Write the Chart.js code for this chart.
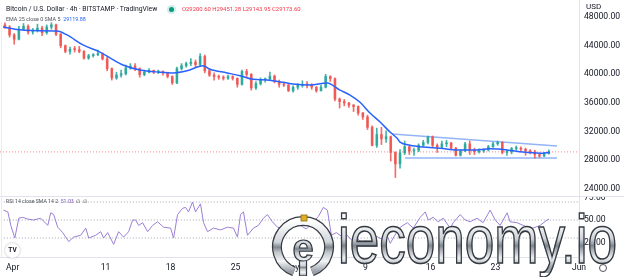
<!DOCTYPE html>
<html>
<head>
<meta charset="utf-8">
<script src="https://cdn.jsdelivr.net/npm/chart.js@4.4.1/dist/chart.umd.min.js"></script>
<style>
    body { margin: 0; background: #fff; width: 624px; height: 277px; overflow: hidden; position: relative; font-family: Roboto, "Noto Sans", sans-serif; }
    canvas { position: absolute; left: 0; }
    #priceChart { top: 0; }
    #rsiChart { top: 196px; }
    .txt { position: absolute; white-space: nowrap; color: #131722; }
    #title { left: 6px; top: 4px; font-size: 6.8px; line-height: 10px; }
    #dot { position: absolute; left: 169px; top: 7px; width: 5px; height: 5px; border-radius: 50%; background: #089981; box-shadow: 0 0 0 2px rgba(8,153,129,0.18); }
    #ohlc { left: 182px; top: 4px; font-size: 5.9px; line-height: 10px; color: #f23645; }
    #ema { left: 6px; top: 14px; font-size: 5.4px; line-height: 10px; color: #50535e; }
    #ema span { color: #2962ff; }
    #rsiLabel { left: 6px; top: 196px; font-size: 5.2px; line-height: 10px; color: #50535e; }
    #rsiLabel span { color: #7e57c2; }
    #usd { left: 586px; top: 2px; font-size: 8px; line-height: 10px; }
    #sep { position: absolute; left: 0; top: 196px; width: 624px; height: 1px; background: #e0e3eb; }
    #leftLine { position: absolute; left: 1px; top: 22px; width: 1px; height: 235px; background: #e6ebf5; }
    #gear { position: absolute; left: 599px; top: 264px; width: 6px; height: 6px; border: 1px solid #50535e; border-radius: 50%; }
    #tv { position: absolute; left: 5px; top: 243px; width: 15px; height: 15px; border-radius: 50%; background: #fff; box-shadow: 0 0 2px rgba(0,0,0,0.35); font: bold 6.5px/15px Roboto, sans-serif; text-align: center; color: #131722; }
    #logo { position: absolute; left: 270px; top: 214px; }
    #wmText { position: absolute; left: 338px; top: 205px; font-family: "Liberation Sans", Arial, sans-serif; font-size: 68px; line-height: 68px;
        transform: scaleX(0.78); transform-origin: 0 0; white-space: nowrap; color: transparent;
        background: linear-gradient(to bottom, #ffffff 0%, #f5f7f9 30%, #cdd2d7 50%, #7f868e 60%, #aab0b6 66%, #eef1f3 78%, #9aa1a9 92%);
        -webkit-background-clip: text; background-clip: text; -webkit-text-stroke: 1.6px #353a41; }
</style>
</head>
<body>
<canvas id="priceChart" width="624" height="196"></canvas>
<canvas id="rsiChart" width="624" height="81"></canvas>
<div id="sep"></div>
<div id="leftLine"></div>
<div id="title" class="txt">Bitcoin / U.S. Dollar · 4h · BITSTAMP · TradingView</div>
<div id="dot"></div>
<div id="ohlc" class="txt">O29200.60 H29451.28 L29143.95 C29173.60</div>
<div id="ema" class="txt">EMA 25 close 0 SMA 5 &nbsp;<span>29119.88</span></div>
<div id="rsiLabel" class="txt">RSI 14 close SMA 14 2 &nbsp;<span>51.03</span> &nbsp;∅ &nbsp;∅</div>
<div id="usd" class="txt">USD</div>
<div id="gear"></div>
<div id="tv">TV</div>
<svg id="logo" width="66" height="62" viewBox="0 0 66 62">
    <defs>
        <linearGradient id="chrome" x1="0" y1="0" x2="0" y2="1">
            <stop offset="0" stop-color="#ffffff"/>
            <stop offset="0.42" stop-color="#d0d5da"/>
            <stop offset="0.52" stop-color="#7f868e"/>
            <stop offset="0.62" stop-color="#c2c7cc"/>
            <stop offset="0.8" stop-color="#f2f4f6"/>
            <stop offset="1" stop-color="#9aa1a9"/>
        </linearGradient>
    </defs>
    <path d="M 24.1 57.4 A 26 26 0 1 1 41.9 57.4" fill="none" stroke="#353a41" stroke-width="10"/>
    <path d="M 24.1 57.4 A 26 26 0 1 1 41.9 57.4" fill="none" stroke="url(#chrome)" stroke-width="7.5"/>
    <rect x="29.5" y="44" width="7" height="18" fill="url(#chrome)" stroke="#353a41" stroke-width="1.2"/>
    <text x="33" y="47" text-anchor="middle" font-family="Liberation Sans, Arial, sans-serif" font-weight="bold" font-size="38" fill="url(#chrome)" stroke="#353a41" stroke-width="1.2">e</text>
    <rect x="31" y="1" width="6" height="6" fill="#e0b020" stroke="#8a6a10" stroke-width="0.8"/>
</svg>
<div id="wmText">ieconomy.io</div>

<script>
// 12h candles from Mar 31 00:00, x = day number (Mar 31 = 0, Apr 1 = 1 ...)
var firstOpen = 46900;
var closes = [
    46600, 45500, 44900, 46300, 46700, 45900, 46100, 46450, 45800, 46600,
    46900, 45600, 44000, 43200, 43500, 43450, 43200, 42250, 42600, 42750,
    42900, 42150, 40800, 39500, 39900, 40080, 40900, 41150, 40800, 39950,
    40300, 40550, 40300, 40400, 40200, 39700, 38800, 40800, 41200, 41500,
    41700, 41370, 42500, 40500, 39900, 39700, 39600, 39450, 39700, 39450,
    38600, 40400, 40000, 38100, 38700, 39250, 39300, 39750, 39000, 38600,
    38500, 37700, 38200, 38450, 38600, 38500, 38200, 37700, 38200, 39700,
    39400, 36550, 36200, 36000, 35700, 35500, 34600, 34050, 32600, 30100,
    31600, 31000, 31300, 29100, 27500, 29050, 29900, 29300, 29400, 30100,
    30500, 31300, 30100, 29850, 30300, 30400, 29700, 28700, 29300, 30300,
    29400, 29200, 29300, 29450, 29900, 30300, 30500, 29100, 29200, 29650,
    29700, 29550, 29300, 29200, 28800, 28600, 28950, 29173.6
];
var highs = [
    47200, 46800, 45700, 46700, 47100, 46900, 46400, 47000, 46700, 46900,
    47200, 47000, 45700, 44100, 43800, 43900, 43900, 43300, 42800, 42900,
    43400, 43000, 42400, 40900, 40300, 40600, 41300, 41500, 41500, 40900,
    40600, 40800, 40600, 40600, 40500, 40300, 39800, 41000, 41500, 41700,
    42200, 42000, 42900, 42700, 40700, 40200, 39900, 39800, 39900, 39800,
    39500, 40600, 40700, 40100, 39000, 39500, 39500, 40300, 39900, 39200,
    38900, 38700, 38400, 38700, 39100, 39000, 38700, 38300, 38500, 40000,
    39800, 39500, 36700, 36500, 36100, 35800, 35600, 34700, 34300, 32800,
    32500, 32600, 32100, 31400, 29200, 29500, 30700, 30000, 29700, 30300,
    30800, 31400, 31400, 30300, 30700, 30800, 30500, 29800, 29500, 30500,
    30700, 29700, 29600, 29600, 30100, 30500, 30700, 30600, 29400, 29800,
    30000, 29900, 29700, 29500, 29400, 29000, 29100, 29451.28
];
var lows = [
    46400, 45200, 44200, 44800, 46200, 45600, 45600, 45900, 45400, 45600,
    46300, 45400, 43700, 43000, 42800, 43100, 43000, 42100, 42100, 42400,
    42600, 42000, 40500, 39200, 39300, 39600, 39900, 40700, 40500, 39600,
    39800, 40200, 40100, 40100, 39900, 39500, 38600, 38700, 40600, 41000,
    41200, 41000, 41200, 40200, 39700, 39200, 39300, 39200, 39300, 39200,
    38200, 38500, 39700, 37800, 37900, 38500, 38900, 39100, 38800, 38200,
    38300, 37600, 37500, 37900, 38200, 38100, 37900, 37500, 37700, 38100,
    39000, 36300, 35300, 35600, 35400, 34800, 34300, 33700, 32300, 30000,
    29800, 30200, 30500, 27900, 25600, 26900, 28800, 28800, 28700, 29200,
    29900, 30300, 29800, 29100, 29700, 29900, 29500, 28600, 28600, 29200,
    28800, 28800, 29000, 29100, 29300, 29800, 30100, 28900, 28700, 28900,
    29400, 29300, 28700, 28900, 28300, 28400, 28500, 28850
];

// EMA 25
var emaDays = [0.05, 1.34, 3.27, 5.85, 6.93, 8.65, 10.48, 11.55, 12.95, 14.78, 16.93, 18.33, 19.84, 21.56, 22.31,
    24.14, 25.54, 26.94, 28.44, 30.16, 31.24, 33.07, 34.9, 36.29, 37.37, 38.45, 39.52, 40.6, 41.67, 42.42,
    42.75, 43.82, 45.22, 47.05, 48.88, 50.6, 52.43, 54.26, 55.98, 57.81, 58.88];
var emaValues = [46600, 46300, 46100, 46050, 45500, 44100, 43100, 42300, 41300, 40600, 40300, 40200, 40500, 41200, 40700,
    40200, 39800, 39300, 39200, 38900, 38650, 38500, 38800, 37800, 37100, 36100, 34600, 33350, 31950, 31100,
    30550, 30100, 29850, 29700, 29450, 29450, 29600, 29450, 29150, 29000, 29120];

// RSI 14
var rsiDays = [0, 0.48, 0.8, 1.23, 1.66, 2.09, 2.63, 3.27, 4.02, 4.78, 5.1, 5.42, 5.85, 6.39, 7.04, 7.57, 8.33, 8.87,
    9.19, 9.94, 10.48, 10.8, 11.23, 11.88, 12.41, 12.95, 13.49, 13.92, 14.24, 14.57, 15.0, 15.53, 16.07, 16.61,
    17.26, 18.01, 18.33, 18.76, 19.3, 19.62, 19.94, 20.37, 20.7, 21.23, 21.56, 21.99, 22.63, 23.39, 24.14, 24.78,
    25.21, 25.54, 25.86, 26.29, 26.94, 27.47, 28.01, 28.44, 28.98, 29.52, 30.38, 30.92, 31.99, 32.64, 33.39,
    33.93, 34.46, 34.9, 35.33, 35.86, 36.4, 36.94, 37.48, 38.01, 38.55, 39.09, 39.63, 40.17, 40.7, 41.24, 41.67,
    42.1, 42.75, 43.5, 44.15, 44.9, 45.44, 45.76, 46.3, 46.83, 47.37, 48.13, 48.45, 49.2, 49.74, 50.28, 51.03,
    51.67, 52.43, 52.97, 53.5, 54.26, 54.58, 55.33, 55.98, 56.52, 57.05, 57.81, 58.56, 58.77];
var rsiValues = [61, 59, 44, 30, 52, 53, 51, 50, 52, 44, 58, 56, 42, 36, 26, 31, 33, 41,
    30, 33, 37, 30, 36, 23, 37, 31, 37, 50, 50, 44, 47, 37, 44, 48,
    42, 41, 30, 56, 63, 64, 59, 70, 59, 68, 47, 37, 41, 39, 42, 41,
    31, 56, 59, 33, 41, 44, 52, 56, 48, 42, 40, 43, 44, 40, 48,
    54, 64, 61, 33, 36, 32, 34, 28, 31, 25, 27, 21, 32, 29, 35, 24,
    32, 42, 47, 41, 53, 59, 50, 53, 48, 52, 41, 47, 56, 50, 48, 52,
    47, 61, 50, 44, 58, 48, 47, 44, 42, 41, 44, 50, 51];

// trend lines and last price
var upperTrendDays = [41.89, 59.63];
var upperTrendPrices = [31675, 30000];
var lowerTrendDays = [43.28, 59.63];
var lowerTrendPrices = [28326, 28326];
var lastPrice = 29173.60;

// axis labels
var priceTicks = [24000, 28000, 32000, 36000, 40000, 44000, 48000];
var rsiTicks = [25, 50, 75];
var rsiBands = [30, 50, 70];
var timeTickDays = [1, 11, 18, 25, 31, 39, 46, 53, 62];
var timeTickLabels = ["Apr", "11", "18", "25", "May", "9", "16", "23", "Jun"];

var xMin = -0.278, xMax = 62;
var upColor = "rgba(38,166,154,0.85)";
var downColor = "rgba(239,83,80,0.85)";

Chart.defaults.font.family = 'Roboto, "Noto Sans", sans-serif';
Chart.defaults.color = "#131722";

// 24/7 market: each candle opens at the previous close
var opens = closes.map(function (c, i) { return i === 0 ? firstOpen : closes[i - 1]; });
var candleColors = closes.map(function (c, i) { return c >= opens[i] ? upColor : downColor; });
var wickData = closes.map(function (c, i) { return { x: i * 0.5 + 0.25, y: [lows[i], highs[i]] }; });
var bodyData = closes.map(function (c, i) { return { x: i * 0.5 + 0.25, y: [opens[i], c] }; });
var emaData = emaDays.map(function (d, i) { return { x: d, y: emaValues[i] }; });
var rsiData = rsiDays.map(function (d, i) { return { x: d, y: rsiValues[i] }; });

function toPoints(days, values) {
    return days.map(function (d, i) { return { x: d, y: values[i] }; });
}

// fixed right axis width, no label padding eating into the plot
function fixAxis(scale) {
    scale.width = 45;
    scale.paddingTop = 0;
    scale.paddingBottom = 0;
}

var ctxPrice = document.getElementById("priceChart").getContext("2d");
new Chart(ctxPrice, {
    type: "bar",
    data: {
        datasets: [
            { type: "line", data: toPoints([xMin, xMax], [lastPrice, lastPrice]), borderColor: "rgba(242,54,69,0.6)",
              borderWidth: 1, borderDash: [1, 2], pointRadius: 0, order: 10 },
            { type: "line", data: toPoints(upperTrendDays, upperTrendPrices), borderColor: "#93b4f7",
              borderWidth: 1.3, pointRadius: 0, order: 9 },
            { type: "line", data: toPoints(lowerTrendDays, lowerTrendPrices), borderColor: "#93b4f7",
              borderWidth: 1.3, pointRadius: 0, order: 8 },
            { data: wickData, backgroundColor: candleColors, barThickness: 1, grouped: false, order: 4 },
            { data: bodyData, backgroundColor: candleColors, barThickness: 2, grouped: false, minBarLength: 1, order: 3 },
            { type: "line", data: emaData, borderColor: "#2962ff", borderWidth: 1.5, pointRadius: 0,
              cubicInterpolationMode: "monotone", order: 1 }
        ]
    },
    options: {
        responsive: false,
        animation: false,
        events: [],
        layout: { padding: 0 },
        plugins: { legend: { display: false }, tooltip: { enabled: false } },
        scales: {
            x: { type: "linear", min: xMin, max: xMax, offset: false, display: false },
            y: {
                position: "right",
                min: 23023,
                max: 50372,
                grid: { display: false, drawTicks: false },
                border: { display: true, color: "#e0e3eb" },
                ticks: {
                    padding: 5,
                    font: { size: 8.6 },
                    color: "#131722",
                    callback: function (v) { return v.toFixed(2); }
                },
                afterBuildTicks: function (scale) {
                    scale.ticks = priceTicks.map(function (v) { return { value: v }; });
                },
                afterFit: fixAxis
            }
        }
    }
});

var bandSets = rsiBands.map(function (b) {
    return { data: toPoints([xMin, xMax], [b, b]), borderColor: "#a3a6af", borderWidth: 1,
             borderDash: [1, 2], pointRadius: 0, order: 5 };
});

var ctxRsi = document.getElementById("rsiChart").getContext("2d");
new Chart(ctxRsi, {
    type: "line",
    data: {
        datasets: bandSets.concat([
            { data: rsiData, borderColor: "#9a7fd6", borderWidth: 1, pointRadius: 0, tension: 0, order: 1 }
        ])
    },
    options: {
        responsive: false,
        animation: false,
        events: [],
        layout: { padding: 0 },
        plugins: { legend: { display: false }, tooltip: { enabled: false } },
        scales: {
            x: {
                type: "linear",
                min: xMin,
                max: xMax,
                grid: { display: false, drawTicks: false },
                border: { display: true, color: "#e0e3eb" },
                ticks: {
                    autoSkip: false,
                    maxRotation: 0,
                    padding: 6,
                    font: { size: 8.6 },
                    color: "#131722",
                    callback: function (v, i) { return timeTickLabels[i]; }
                },
                afterBuildTicks: function (scale) {
                    scale.ticks = timeTickDays.map(function (v) { return { value: v }; });
                },
                afterFit: function (scale) { scale.height = 20; }
            },
            y: {
                position: "right",
                min: 8.89,
                max: 76.67,
                grid: { display: false, drawTicks: false },
                border: { display: true, color: "#e0e3eb" },
                ticks: {
                    padding: 5,
                    font: { size: 8.6 },
                    color: "#131722",
                    callback: function (v) { return v.toFixed(2); }
                },
                afterBuildTicks: function (scale) {
                    scale.ticks = rsiTicks.map(function (v) { return { value: v }; });
                },
                afterFit: fixAxis
            }
        }
    }
});
</script>
</body>
</html>
